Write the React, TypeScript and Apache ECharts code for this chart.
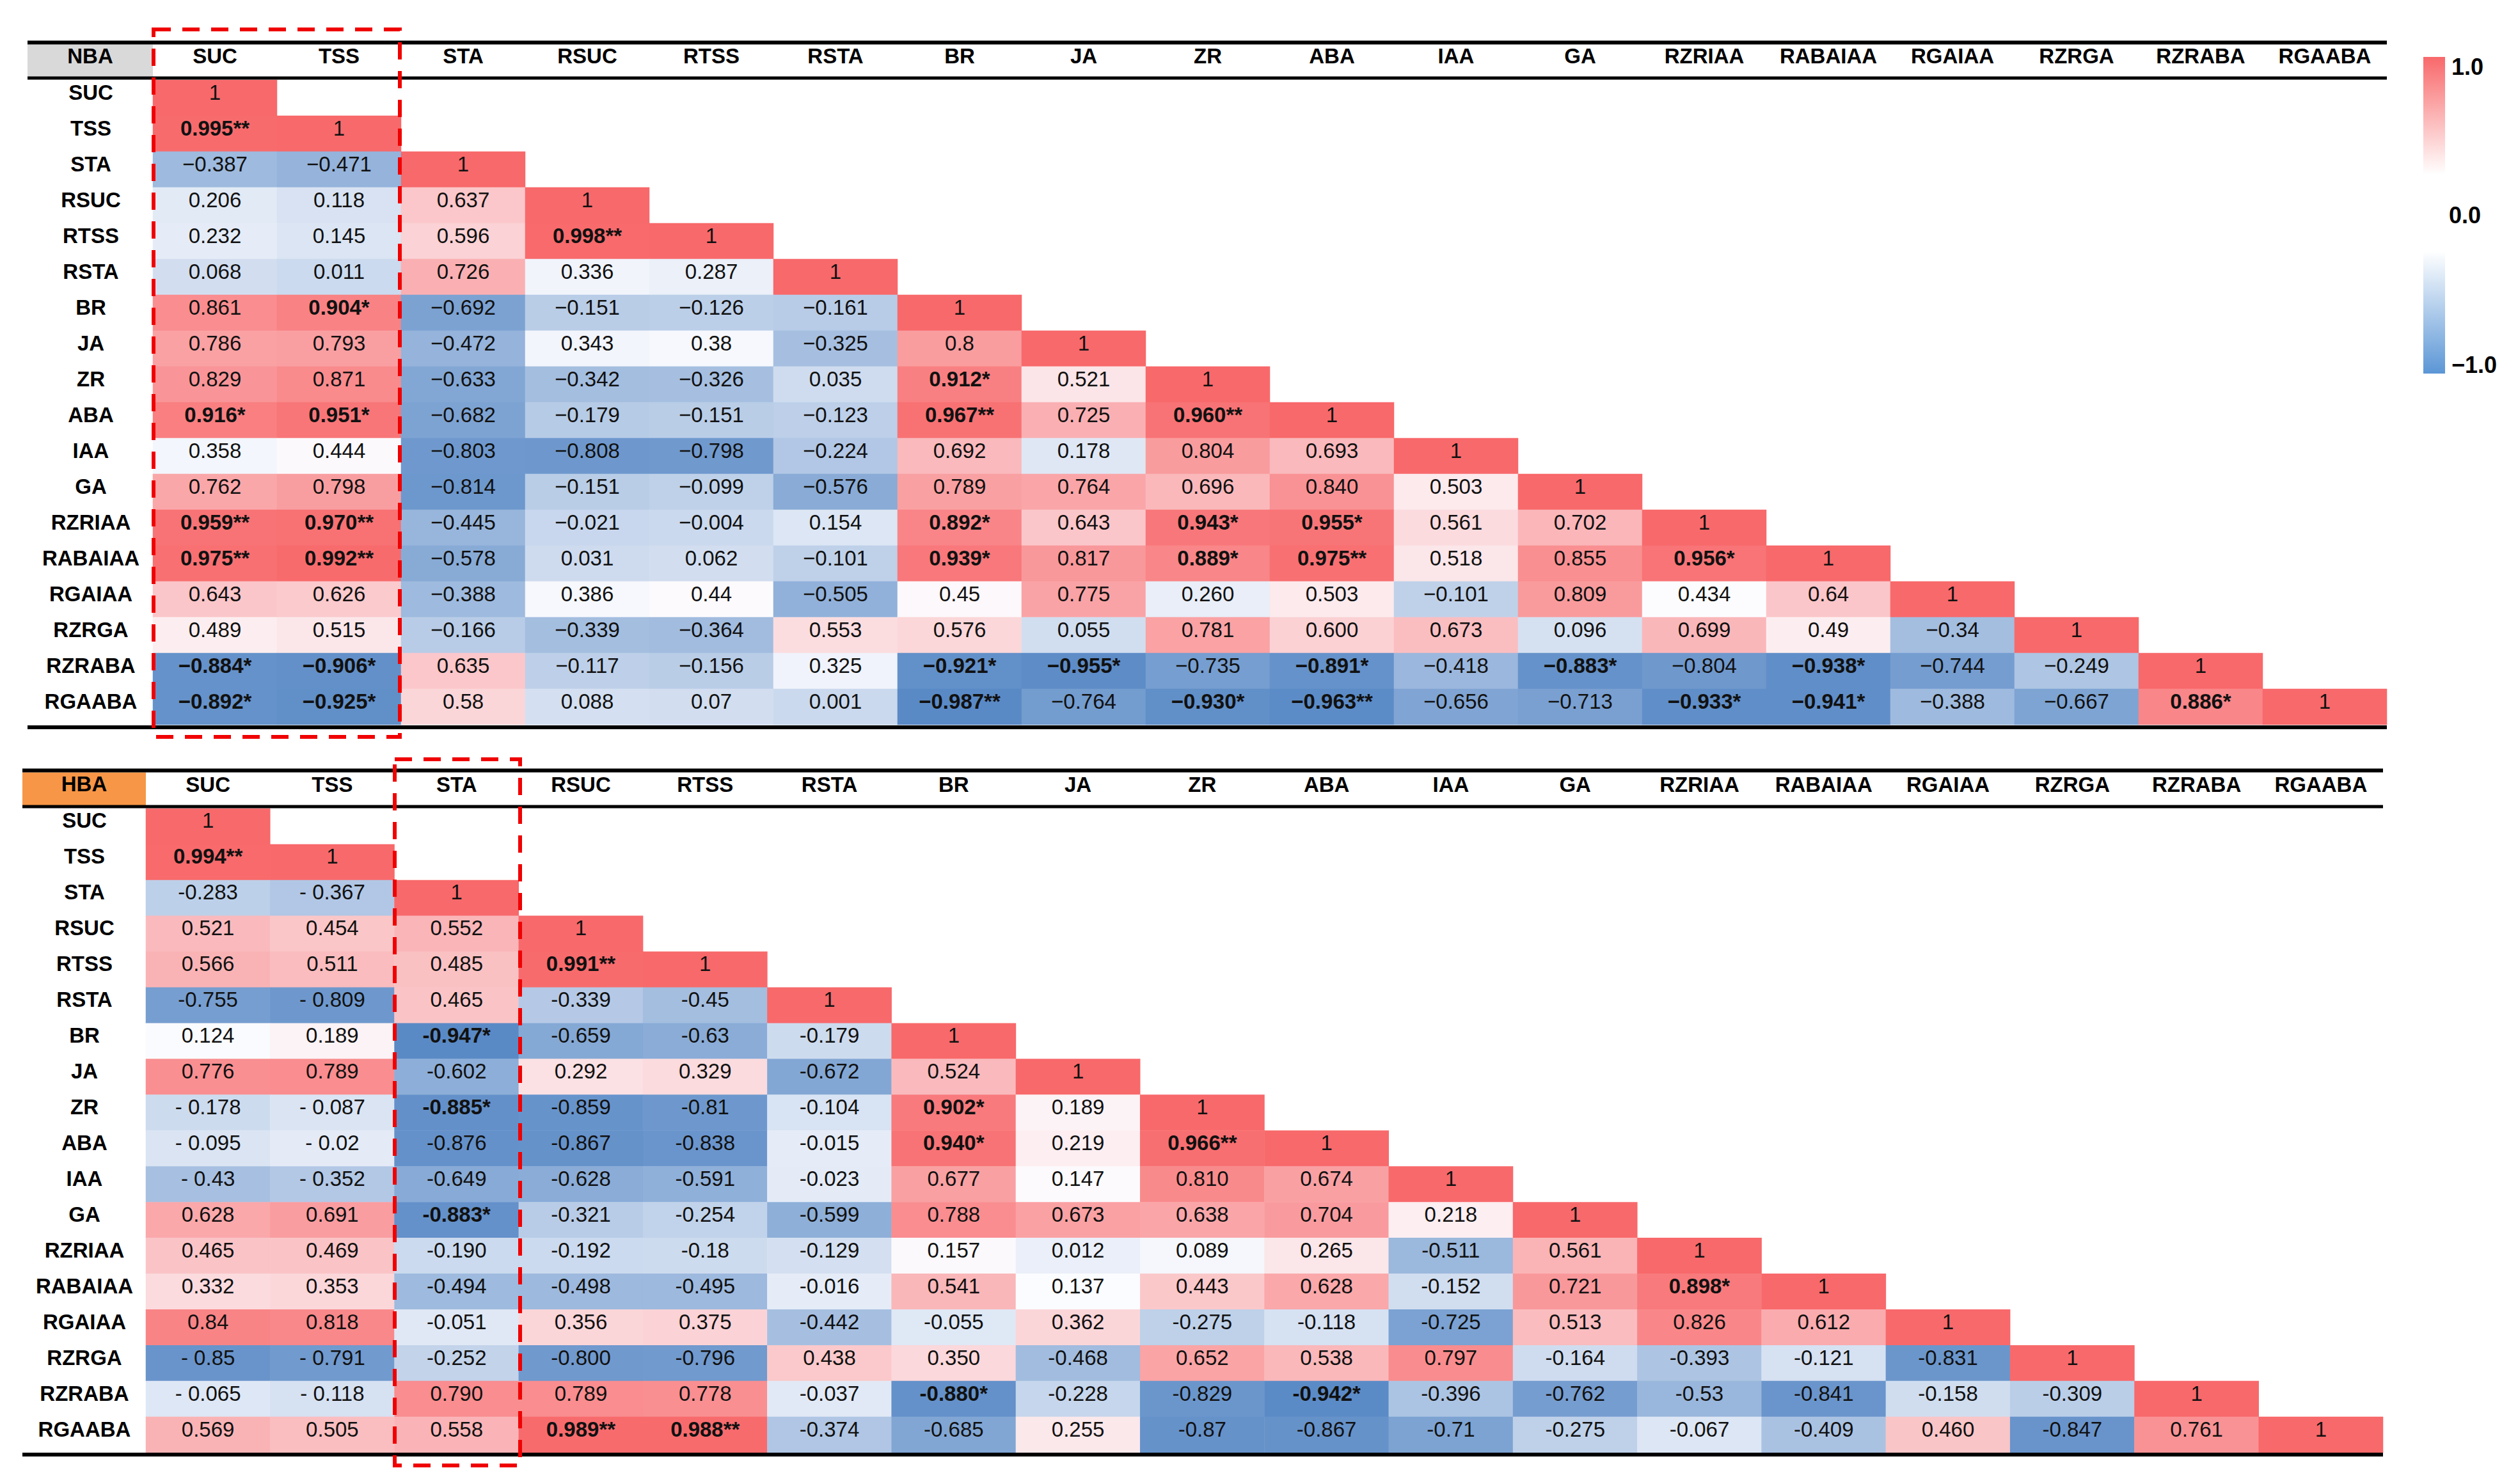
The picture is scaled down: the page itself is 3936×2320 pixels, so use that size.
import React, { useEffect, useRef } from "react";
import * as echarts from "echarts";

const variables = ["SUC", "TSS", "STA", "RSUC", "RTSS", "RSTA", "BR", "JA", "ZR", "ABA", "IAA", "GA", "RZRIAA", "RABAIAA", "RGAIAA", "RZRGA", "RZRABA", "RGAABA"];

const tableNames = ["NBA", "HBA"];

const nbaRows: string[][] = [
  ["1"],
  ["0.995**", "1"],
  ["−0.387", "−0.471", "1"],
  ["0.206", "0.118", "0.637", "1"],
  ["0.232", "0.145", "0.596", "0.998**", "1"],
  ["0.068", "0.011", "0.726", "0.336", "0.287", "1"],
  ["0.861", "0.904*", "−0.692", "−0.151", "−0.126", "−0.161", "1"],
  ["0.786", "0.793", "−0.472", "0.343", "0.38", "−0.325", "0.8", "1"],
  ["0.829", "0.871", "−0.633", "−0.342", "−0.326", "0.035", "0.912*", "0.521", "1"],
  ["0.916*", "0.951*", "−0.682", "−0.179", "−0.151", "−0.123", "0.967**", "0.725", "0.960**", "1"],
  ["0.358", "0.444", "−0.803", "−0.808", "−0.798", "−0.224", "0.692", "0.178", "0.804", "0.693", "1"],
  ["0.762", "0.798", "−0.814", "−0.151", "−0.099", "−0.576", "0.789", "0.764", "0.696", "0.840", "0.503", "1"],
  ["0.959**", "0.970**", "−0.445", "−0.021", "−0.004", "0.154", "0.892*", "0.643", "0.943*", "0.955*", "0.561", "0.702", "1"],
  ["0.975**", "0.992**", "−0.578", "0.031", "0.062", "−0.101", "0.939*", "0.817", "0.889*", "0.975**", "0.518", "0.855", "0.956*", "1"],
  ["0.643", "0.626", "−0.388", "0.386", "0.44", "−0.505", "0.45", "0.775", "0.260", "0.503", "−0.101", "0.809", "0.434", "0.64", "1"],
  ["0.489", "0.515", "−0.166", "−0.339", "−0.364", "0.553", "0.576", "0.055", "0.781", "0.600", "0.673", "0.096", "0.699", "0.49", "−0.34", "1"],
  ["−0.884*", "−0.906*", "0.635", "−0.117", "−0.156", "0.325", "−0.921*", "−0.955*", "−0.735", "−0.891*", "−0.418", "−0.883*", "−0.804", "−0.938*", "−0.744", "−0.249", "1"],
  ["−0.892*", "−0.925*", "0.58", "0.088", "0.07", "0.001", "−0.987**", "−0.764", "−0.930*", "−0.963**", "−0.656", "−0.713", "−0.933*", "−0.941*", "−0.388", "−0.667", "0.886*", "1"],
];

const hbaRows: string[][] = [
  ["1"],
  ["0.994**", "1"],
  ["-0.283", "- 0.367", "1"],
  ["0.521", "0.454", "0.552", "1"],
  ["0.566", "0.511", "0.485", "0.991**", "1"],
  ["-0.755", "- 0.809", "0.465", "-0.339", "-0.45", "1"],
  ["0.124", "0.189", "-0.947*", "-0.659", "-0.63", "-0.179", "1"],
  ["0.776", "0.789", "-0.602", "0.292", "0.329", "-0.672", "0.524", "1"],
  ["- 0.178", "- 0.087", "-0.885*", "-0.859", "-0.81", "-0.104", "0.902*", "0.189", "1"],
  ["- 0.095", "- 0.02", "-0.876", "-0.867", "-0.838", "-0.015", "0.940*", "0.219", "0.966**", "1"],
  ["- 0.43", "- 0.352", "-0.649", "-0.628", "-0.591", "-0.023", "0.677", "0.147", "0.810", "0.674", "1"],
  ["0.628", "0.691", "-0.883*", "-0.321", "-0.254", "-0.599", "0.788", "0.673", "0.638", "0.704", "0.218", "1"],
  ["0.465", "0.469", "-0.190", "-0.192", "-0.18", "-0.129", "0.157", "0.012", "0.089", "0.265", "-0.511", "0.561", "1"],
  ["0.332", "0.353", "-0.494", "-0.498", "-0.495", "-0.016", "0.541", "0.137", "0.443", "0.628", "-0.152", "0.721", "0.898*", "1"],
  ["0.84", "0.818", "-0.051", "0.356", "0.375", "-0.442", "-0.055", "0.362", "-0.275", "-0.118", "-0.725", "0.513", "0.826", "0.612", "1"],
  ["- 0.85", "- 0.791", "-0.252", "-0.800", "-0.796", "0.438", "0.350", "-0.468", "0.652", "0.538", "0.797", "-0.164", "-0.393", "-0.121", "-0.831", "1"],
  ["- 0.065", "- 0.118", "0.790", "0.789", "0.778", "-0.037", "-0.880*", "-0.228", "-0.829", "-0.942*", "-0.396", "-0.762", "-0.53", "-0.841", "-0.158", "-0.309", "1"],
  ["0.569", "0.505", "0.558", "0.989**", "0.988**", "-0.374", "-0.685", "0.255", "-0.87", "-0.867", "-0.71", "-0.275", "-0.067", "-0.409", "0.460", "-0.847", "0.761", "1"],
];

const legendTicks = ["1.0", "0.0", "−1.0"];

const FONT = "'Liberation Sans', Arial, Helvetica, sans-serif";
const RED = [248, 105, 107];
const WHITE = [252, 252, 255];
const BLUE = [90, 138, 198];

function parseVal(s: string): number {
  return parseFloat(s.replace(/−/g, "-").replace(/[\s*]/g, ""));
}

function mix(a: number[], b: number[], t: number): string {
  const c = a.map((v, i) => Math.round(v + (b[i] - v) * Math.max(0, Math.min(1, t))));
  return `rgb(${c[0]},${c[1]},${c[2]})`;
}

function stats(rows: string[][]) {
  const vals = rows.flat().map(parseVal).sort((a, b) => a - b);
  const n = vals.length;
  const mid = n % 2 ? vals[(n - 1) / 2] : (vals[n / 2 - 1] + vals[n / 2]) / 2;
  return { min: vals[0], max: vals[n - 1], mid };
}

function colorStops(rows: string[][]): { min: number; max: number; colors: string[] } {
  const { min, max, mid } = stats(rows);
  const N = 201;
  const colors: string[] = [];
  for (let i = 0; i < N; i++) {
    const v = min + ((max - min) * i) / (N - 1);
    colors.push(v <= mid ? mix(BLUE, WHITE, (v - min) / (mid - min)) : mix(WHITE, RED, (v - mid) / (max - mid)));
  }
  return { min, max, colors };
}

function cells(rows: string[][]) {
  const out: any[] = [];
  rows.forEach((row, r) => {
    row.forEach((txt, c) => {
      out.push({
        value: [c, r, parseVal(txt)],
        label: { fontWeight: txt.includes("*") ? "bold" : "normal" },
      });
    });
  });
  return out;
}

const layouts = [
  { left: 239, top: 125, width: 3492, height: 1008, lineX0: 43, lineTop: 66.5, lineHead: 122, lineBottom: 1137, tagX: 43, tagW: 196, tagColor: "#D9D9D9", labelMargin: 97, headMargin: 38 },
  { left: 228, top: 1264, width: 3497, height: 1007, lineX0: 35, lineTop: 1204.5, lineHead: 1261, lineBottom: 2274, tagX: 35, tagW: 193, tagColor: "#F79646", labelMargin: 96, headMargin: 38 },
];

export default function App() {
  const ref = useRef<HTMLDivElement>(null);
  useEffect(() => {
    if (!ref.current) return;
    const chart = echarts.init(ref.current, undefined, { renderer: "svg" });
    const tables = [nbaRows, hbaRows];

    const grids = layouts.map((l) => ({ left: l.left, top: l.top, width: l.width, height: l.height, containLabel: false }));
    const xAxes = layouts.map((l, i) => ({
      type: "category",
      gridIndex: i,
      position: "top",
      data: variables,
      axisLine: { show: false },
      axisTick: { show: false },
      splitArea: { show: false },
      axisLabel: { interval: 0, margin: l.headMargin, verticalAlign: "middle", fontFamily: FONT, fontSize: 33, fontWeight: "bold", color: "#000" },
    }));
    const yAxes = layouts.map((l, i) => ({
      type: "category",
      gridIndex: i,
      inverse: true,
      data: variables,
      axisLine: { show: false },
      axisTick: { show: false },
      splitArea: { show: false },
      axisLabel: { interval: 0, margin: l.labelMargin, align: "center", verticalAlign: "bottom", lineHeight: 18, fontFamily: FONT, fontSize: 33, fontWeight: "bold", color: "#000" },
    }));
    const series = tables.map((rows, i) => ({
      type: "heatmap",
      xAxisIndex: i,
      yAxisIndex: i,
      data: cells(rows),
      itemStyle: { borderWidth: 0 },
      emphasis: { disabled: true },
      label: {
        show: true,
        fontFamily: FONT,
        fontSize: 33,
        color: "#111",
        offset: [0, -9],
        formatter: (p: any) => rows[p.value[1]][p.value[0]],
      },
    }));
    const visualMaps = tables.map((rows, i) => {
      const s = colorStops(rows);
      return { type: "continuous", show: false, seriesIndex: i, dimension: 2, min: s.min, max: s.max, inRange: { color: s.colors } };
    });

    const graphic: any[] = [];
    layouts.forEach((l, i) => {
      const xEnd = l.left + l.width;
      graphic.push({ type: "rect", z: 50, shape: { x: l.tagX, y: l.lineTop + 3, width: l.tagW, height: l.lineHead - l.lineTop - 5 }, style: { fill: l.tagColor } });
      graphic.push({ type: "text", z: 51, x: l.tagX + l.tagW / 2, y: (l.lineTop + l.lineHead) / 2 - 7, style: { text: tableNames[i], fontFamily: FONT, fontSize: 33, fontWeight: "bold", fill: "#000", align: "center", verticalAlign: "middle" } });
      [l.lineTop, l.lineHead, l.lineBottom].forEach((y, k) => {
        graphic.push({ type: "line", z: 60, shape: { x1: l.lineX0, y1: y, x2: xEnd, y2: y }, style: { stroke: "#000", lineWidth: k === 1 ? 5 : 6 } });
      });
    });
    // dashed highlight boxes
    graphic.push({ type: "rect", z: 70, shape: { x: 240, y: 46, width: 385, height: 1106 }, style: { fill: "none", stroke: "#F00000", lineWidth: 6, lineDash: [27, 18] } });
    graphic.push({ type: "rect", z: 70, shape: { x: 617, y: 1187, width: 196, height: 1104 }, style: { fill: "none", stroke: "#F00000", lineWidth: 6, lineDash: [27, 18] } });
    // colour legend
    graphic.push({ type: "rect", z: 50, shape: { x: 3788, y: 89, width: 34, height: 184 }, style: { fill: new echarts.graphic.LinearGradient(0, 0, 0, 1, [{ offset: 0, color: "#F8696B" }, { offset: 1, color: "#FFFFFF" }]) } });
    graphic.push({ type: "rect", z: 50, shape: { x: 3788, y: 393, width: 34, height: 191 }, style: { fill: new echarts.graphic.LinearGradient(0, 0, 0, 1, [{ offset: 0, color: "#FFFFFF" }, { offset: 1, color: "#5B96D6" }]) } });
    const legendY = [104, 336, 570];
    const legendX = [3832, 3828, 3832];
    legendTicks.forEach((t, k) => {
      graphic.push({ type: "text", z: 51, x: legendX[k], y: legendY[k], style: { text: t, fontFamily: FONT, fontSize: 36, fontWeight: "bold", fill: "#000", align: "left", verticalAlign: "middle" } });
    });

    chart.setOption({
      animation: false,
      backgroundColor: "#FFFFFF",
      grid: grids,
      xAxis: xAxes,
      yAxis: yAxes,
      visualMap: visualMaps,
      series,
      graphic,
    } as any);
    return () => chart.dispose();
  }, []);
  return <div ref={ref} style={{ position: "absolute", left: 0, top: 0, width: 3936, height: 2320 }} />;
}
